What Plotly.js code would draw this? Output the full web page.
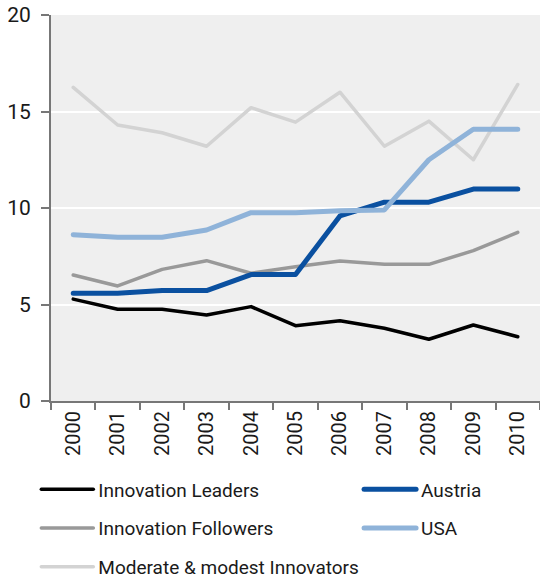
<!DOCTYPE html>
<html>
<head>
<meta charset="utf-8">
<script src="https://cdn.plot.ly/plotly-3.0.1.min.js"></script>
<style>
html,body{margin:0;padding:0;background:#fff;}
#chart{width:540px;height:582px;}
#chart .js-line, #chart .legendlines path{stroke-linecap:round !important;stroke-linejoin:round !important;}
</style>
</head>
<body>
<div id="chart"></div>
<script>
const years = ["2000","2001","2002","2003","2004","2005","2006","2007","2008","2009","2010"];
const innovationLeaders = [5.28, 4.75, 4.75, 4.46, 4.89, 3.9, 4.16, 3.77, 3.2, 3.94, 3.33];
const innovationFollowers = [6.53, 5.96, 6.82, 7.27, 6.62, 6.96, 7.25, 7.08, 7.08, 7.79, 8.74];
const moderateModest = [16.25, 14.3, 13.9, 13.2, 15.2, 14.45, 16.0, 13.2, 14.5, 12.5, 16.4];
const austria = [5.58, 5.58, 5.72, 5.72, 6.55, 6.55, 9.59, 10.3, 10.3, 10.98, 10.98];
const usa = [8.62, 8.48, 8.48, 8.86, 9.76, 9.76, 9.86, 9.9, 12.5, 14.08, 14.08];
const yTicks = [0, 5, 10, 15, 20];

const FONT = 'Roboto, "Liberation Sans", sans-serif';

function tr(name, y, color, width, legend, group) {
  return {x: years, y: y, name: name, type: 'scatter', mode: 'lines',
          line: {color: color, width: width}, hoverinfo: 'skip',
          legend: legend, legendgroup: group};
}

const data = [
  tr('Innovation Leaders', innovationLeaders, '#000000', 3.5, 'legend', 'a'),
  tr('Innovation Followers', innovationFollowers, '#999999', 3.5, 'legend', 'b'),
  tr('Moderate &amp; modest Innovators', moderateModest, '#d3d3d3', 3.5, 'legend', 'c'),
  tr('Austria', austria, '#0a50a0', 5, 'legend2', 'd'),
  tr('USA', usa, '#8fb3d9', 5, 'legend2', 'e')
];

const legendCommon = {
  orientation: 'v', yanchor: 'top', xanchor: 'left',
  font: {family: FONT, size: 19, color: '#1a1a1a'},
  itemwidth: 52, tracegroupgap: 11, bgcolor: 'rgba(0,0,0,0)', traceorder: 'grouped'
};

const layout = {
  width: 540, height: 582,
  margin: {l: 51, r: 0, t: 15, b: 181, autoexpand: false},
  paper_bgcolor: '#ffffff',
  plot_bgcolor: '#efefef',
  font: {family: FONT, size: 20, color: '#1a1a1a'},
  showlegend: true,
  legend: Object.assign({}, legendCommon, {x: -0.03, y: -0.18}),
  legend2: Object.assign({}, legendCommon, {x: 0.63, y: -0.18}),
  xaxis: {
    type: 'category', range: [-0.5, 10.5],
    showline: true, linecolor: '#777', linewidth: 2,
    ticks: 'outside', tickson: 'boundaries', ticklen: 7, tickcolor: '#777', tickwidth: 2,
    tickangle: -90, showgrid: false, zeroline: false,
    tickfont: {family: FONT, size: 20, color: '#1a1a1a'}
  },
  yaxis: {
    range: [0, 20], tickvals: yTicks, ticktext: yTicks.map(String),
    showline: true, linecolor: '#777', linewidth: 2,
    ticks: 'outside', ticklen: 8, tickcolor: '#777', tickwidth: 2,
    showgrid: true, gridcolor: '#ffffff', gridwidth: 2, zeroline: false,
    ticklabelstandoff: 6,
    tickfont: {family: FONT, size: 21, color: '#1a1a1a'}
  }
};

Plotly.newPlot('chart', data, layout, {displayModeBar: false, staticPlot: true});
</script>
</body>
</html>
